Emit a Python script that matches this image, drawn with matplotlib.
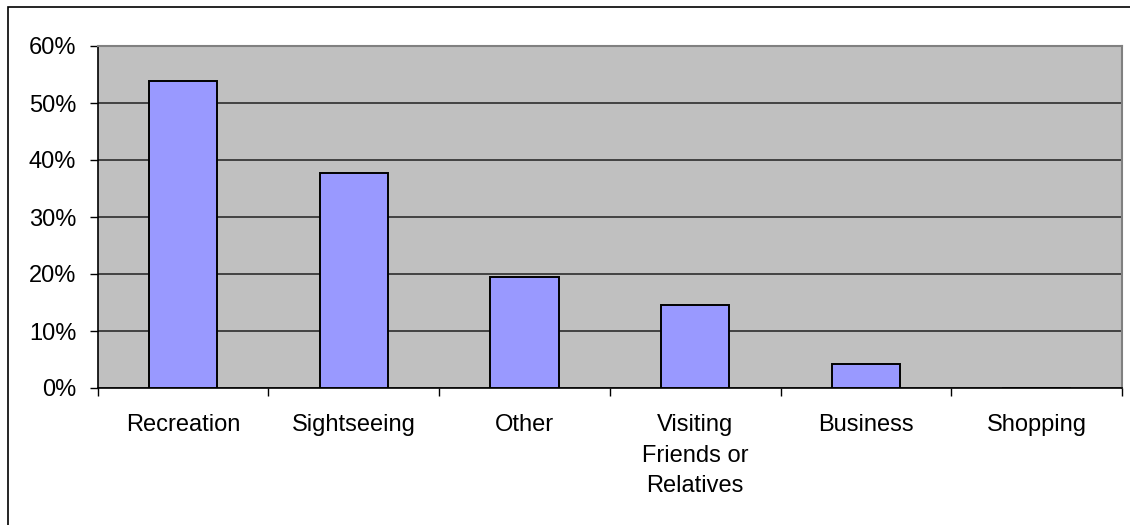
import matplotlib.pyplot as plt
from matplotlib.patches import Rectangle
from matplotlib.ticker import FixedLocator, FuncFormatter
import numpy as np

categories = ['Recreation', 'Sightseeing', 'Other',
              'Visiting\nFriends or\nRelatives', 'Business', 'Shopping']
shares = [53.8, 37.8, 19.4, 14.6, 4.2, 0.0]
yticks = [0, 10, 20, 30, 40, 50, 60]


def main():
    plt.rcParams['font.family'] = ['Liberation Sans', 'DejaVu Sans']
    W, H = 1130, 525
    fig = plt.figure(figsize=(W / 100, H / 100), dpi=100)
    ax = fig.add_axes([97.7 / W, 1 - 388 / H, (1122 - 97.7) / W, (388 - 46) / H])

    x = np.arange(len(categories))
    ax.bar(x, shares, width=0.4, color='#9999FF', edgecolor='black',
           linewidth=1.4, zorder=3)

    ax.set_facecolor('#C0C0C0')
    ax.set_xlim(-0.5, len(categories) - 0.5)
    ax.set_ylim(0, 60)
    ax.set_yticks(yticks)
    ax.yaxis.set_major_formatter(FuncFormatter(lambda v, p: '%d%%' % v))
    ax.grid(axis='y', color='#202020', linewidth=1.1, zorder=1)

    # category labels on major ticks, tick marks at category boundaries
    ax.set_xticks(x)
    ax.set_xticklabels(categories, linespacing=1.52, va='top')
    ax.xaxis.set_minor_locator(FixedLocator(np.arange(-0.5, len(categories), 1.0)))
    ax.tick_params(axis='x', which='major', length=0, pad=18.5, labelsize=17)
    ax.tick_params(axis='x', which='minor', length=5.5, width=1.0,
                   direction='out', color='black')
    ax.tick_params(axis='y', length=5.5, width=1.0, direction='out',
                   pad=10, labelsize=17)

    for side in ['top', 'right']:
        ax.spines[side].set_color('#808080')
        ax.spines[side].set_linewidth(1.5)
    for side in ['left', 'bottom']:
        ax.spines[side].set_color('black')
        ax.spines[side].set_linewidth(1.2)

    # chart area border (cut off at right and bottom)
    fig.add_artist(Rectangle((8 / W, -0.2), 1.5, 1 - 7 / H + 0.2,
                             fill=False, edgecolor='black', linewidth=1.2,
                             transform=fig.transFigure))

    fig.savefig('out.png', dpi=100)


if __name__ == '__main__':
    main()
